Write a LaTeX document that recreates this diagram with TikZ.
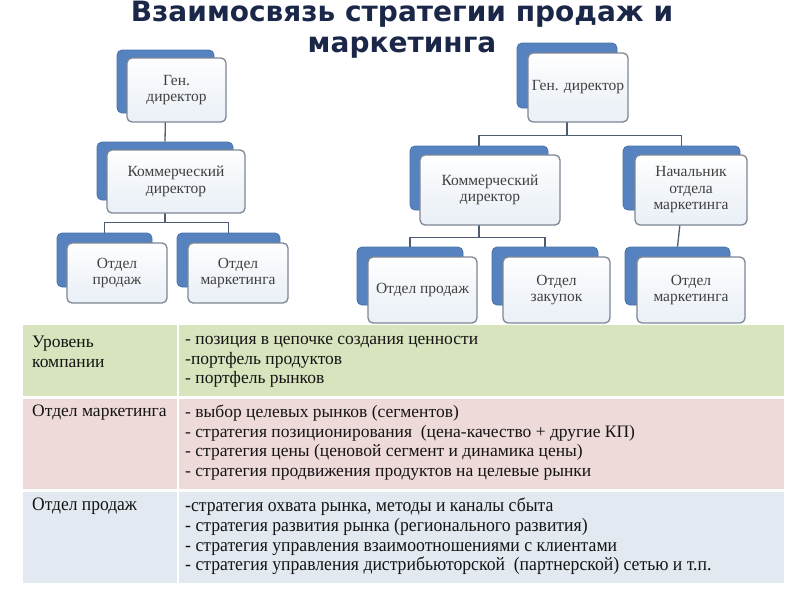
\documentclass[tikz,border=0pt]{standalone}
\usepackage{fontspec}
\setmainfont{Liberation Serif}
\newfontfamily\titlefont{DejaVu Sans}
\usetikzlibrary{positioning}
\definecolor{titleblue}{HTML}{1B2748}
\definecolor{backblue}{HTML}{5683BF}
\definecolor{backedge}{HTML}{4A72A8}
\definecolor{frontedge}{HTML}{7D8796}
\definecolor{frontfill}{HTML}{EAF0F7}
\definecolor{linkcol}{HTML}{4F5D70}
\definecolor{boxtext}{HTML}{404040}
\definecolor{rowgreen}{HTML}{D7E4BD}
\definecolor{rowpink}{HTML}{EFDADA}
\definecolor{rowblue}{HTML}{E3E9F1}
\definecolor{tabtext}{HTML}{141414}
\tikzset{
  backbox/.style={draw=backedge, line width=0.8pt, fill=backblue, rounded corners=5pt, inner sep=0pt},
  frontbox/.style={draw=frontedge, line width=1.3pt, top color=white, bottom color=frontfill, middle color=frontfill!60!white, rounded corners=5pt, inner sep=0pt, align=center, text=boxtext, font=\fontsize{15.5}{16.5}\selectfont},
  link/.style={draw=linkcol, line width=1.3pt},
  celltext/.style={anchor=north west, inner sep=0pt, align=left, text=tabtext, font=\fontsize{17.5}{19.6}\selectfont},
}
\begin{document}
\begin{tikzpicture}[x=1pt,y=-1pt]
\useasboundingbox (0,0) rectangle (800,600);
\fill[white] (0,0) rectangle (800,600);

% title
\node[align=center, text=titleblue, font=\titlefont\bfseries\fontsize{28}{31}\selectfont, inner sep=0pt] (title) at (402,30) {Взаимосвязь стратегии продаж и\\маркетинга};

% ---- back boxes (left chart)
\node[backbox, minimum width=97, minimum height=63] (G1b) at (165.5,81.5) {};
\node[backbox, minimum width=136, minimum height=58] (K1b) at (165,171) {};
\node[backbox, minimum width=95, minimum height=54] (P1b) at (104.5,260) {};
\node[backbox, minimum width=103, minimum height=54] (M1b) at (228.5,260) {};
% ---- back boxes (right chart)
\node[backbox, minimum width=100, minimum height=65] (G2b) at (567,75.5) {};
\node[backbox, minimum width=138, minimum height=64] (K2b) at (479,178) {};
\node[backbox, minimum width=117, minimum height=64] (N2b) at (681.5,178) {};
\node[backbox, minimum width=106, minimum height=58] (P2b) at (410,276) {};
\node[backbox, minimum width=106, minimum height=58] (Z2b) at (545,276) {};
\node[backbox, minimum width=105, minimum height=58] (M2b) at (677.5,276) {};

% ---- connectors
\draw[link] (G1b.south) -- (K1b.north);
\draw[link] (K1b.south) -- ++(0,22) -| (P1b.north);
\draw[link] (K1b.south) -- ++(0,22) -| (M1b.north);
\draw[link] (G2b.south) -- ++(0,27) -| (K2b.north);
\draw[link] (G2b.south) -- ++(0,27) -| (N2b.north);
\draw[link] (K2b.south) -- ++(0,27) -| (P2b.north);
\draw[link] (K2b.south) -- ++(0,27) -| (Z2b.north);
\draw[link] (N2b.south) -- (M2b.north);

% ---- front boxes (left chart)
\node[frontbox, minimum width=99, minimum height=64] (G1) at (176.5,90) {Ген.\\директор};
\node[frontbox, minimum width=138, minimum height=63] (K1) at (176,181.5) {Коммерческий\\директор};
\node[frontbox, minimum width=100, minimum height=60] (P1) at (117,273) {Отдел\\продаж};
\node[frontbox, minimum width=100, minimum height=60] (M1) at (238,273) {Отдел\\маркетинга};
% ---- front boxes (right chart)
\node[frontbox, minimum width=100, minimum height=69] (G2) at (578,87.5) {Ген. директор};
\node[frontbox, minimum width=140, minimum height=70] (K2) at (490,190) {Коммерческий\\директор};
\node[frontbox, minimum width=112, minimum height=70] (N2) at (691,190) {Начальник\\отдела\\маркетинга};
\node[frontbox, minimum width=109, minimum height=66] (P2) at (422.5,290) {Отдел продаж};
\node[frontbox, minimum width=107, minimum height=66] (Z2) at (556.5,290) {Отдел\\закупок};
\node[frontbox, minimum width=108, minimum height=66] (M2) at (691,290) {Отдел\\маркетинга};

% ---- table
\fill[rowgreen] (23,325) rectangle (177,396);
\fill[rowgreen] (179,325) rectangle (784,396);
\fill[rowpink] (23,399) rectangle (177,489);
\fill[rowpink] (179,399) rectangle (784,489);
\fill[rowblue] (23,492) rectangle (177,583);
\fill[rowblue] (179,492) rectangle (784,583);

\node[celltext] (r1a) at (32,336) {Уровень\\компании};
\node[celltext] (r1b) at (185,336) {- позиция в цепочке создания ценности\\-портфель продуктов\\- портфель рынков};
\node[celltext] (r2a) at (32,405) {Отдел маркетинга};
\node[celltext] (r2b) at (185,405) {- выбор целевых рынков (сегментов)\\- стратегия позиционирования \ (цена-качество + другие КП)\\- стратегия цены (ценовой сегмент и динамика цены)\\- стратегия продвижения продуктов на целевые рынки};
\node[celltext] (r3a) at (32,498) {\scalebox{0.92}[1]{\fontsize{19}{19.6}\selectfont Отдел продаж}};
\node[celltext] (r3b) at (185,498) {\scalebox{0.93}[1]{\parbox[t]{700pt}{\fontsize{19}{19.6}\selectfont\raggedright -стратегия охвата рынка, методы и каналы сбыта\\- стратегия развития рынка (регионального развития)\\- стратегия управления взаимоотношениями с клиентами\\- стратегия управления дистрибьюторской \ (партнерской) сетью и т.п.}}};
\end{tikzpicture}
\end{document}
